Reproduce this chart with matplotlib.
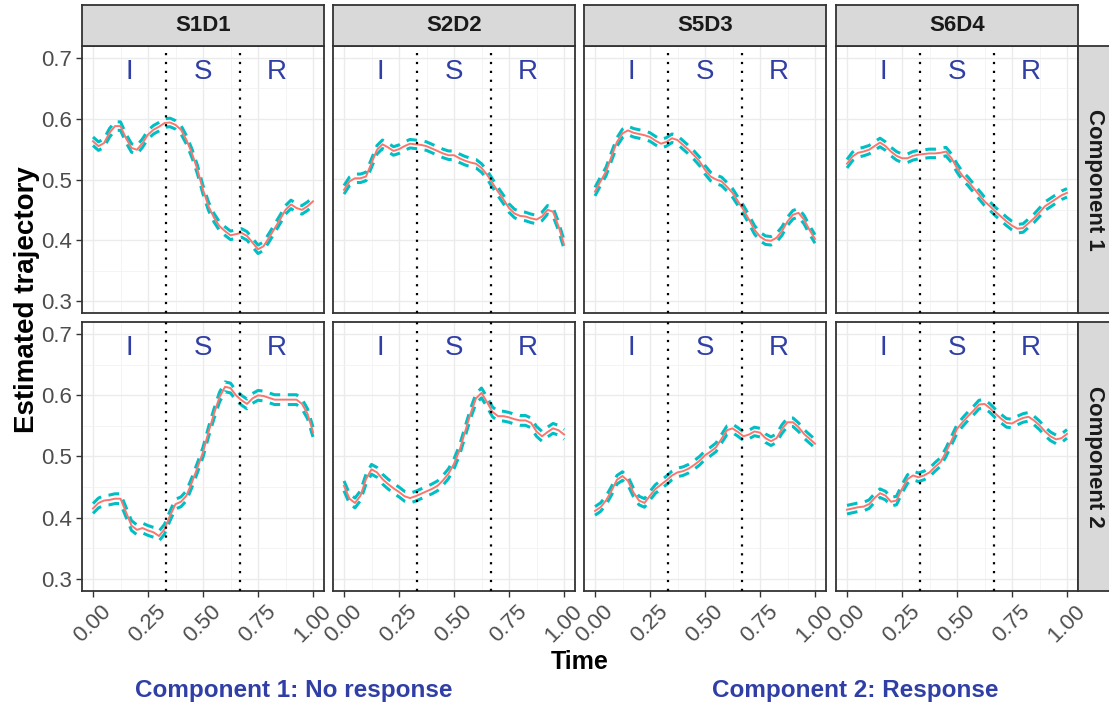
import numpy as np
import matplotlib
matplotlib.use('Agg')
import matplotlib.pyplot as plt
from matplotlib.ticker import MultipleLocator

plt.rcParams['font.family'] = ['Liberation Sans', 'DejaVu Sans']

# time grid shared by every estimated curve
time = np.linspace(0.0, 1.0, 41)

channels = ['S1D1', 'S2D2', 'S5D3', 'S6D4']
components = ['Component 1', 'Component 2']

# estimated mean trajectories (component 1 = top row)
s1d1_c1 = [0.563, 0.555, 0.560, 0.577, 0.588, 0.588, 0.568, 0.552, 0.549, 0.560,
           0.574, 0.582, 0.587, 0.593, 0.594, 0.590, 0.582, 0.565, 0.543, 0.516,
           0.483, 0.456, 0.437, 0.423, 0.415, 0.408, 0.410, 0.412, 0.407, 0.396,
           0.385, 0.390, 0.404, 0.419, 0.434, 0.450, 0.459, 0.453, 0.450, 0.456,
           0.464]
s2d2_c1 = [0.483, 0.497, 0.502, 0.502, 0.505, 0.527, 0.549, 0.558, 0.553, 0.547,
           0.550, 0.555, 0.559, 0.558, 0.557, 0.555, 0.551, 0.547, 0.543, 0.540,
           0.540, 0.535, 0.531, 0.528, 0.526, 0.519, 0.508, 0.494, 0.480, 0.467,
           0.453, 0.444, 0.440, 0.439, 0.436, 0.434, 0.439, 0.450, 0.447, 0.423,
           0.393]
s5d3_c1 = [0.480, 0.497, 0.513, 0.538, 0.562, 0.576, 0.581, 0.577, 0.575, 0.573,
           0.570, 0.564, 0.559, 0.562, 0.568, 0.565, 0.557, 0.549, 0.540, 0.530,
           0.516, 0.505, 0.500, 0.497, 0.488, 0.478, 0.464, 0.450, 0.434, 0.417,
           0.406, 0.400, 0.399, 0.404, 0.415, 0.431, 0.442, 0.445, 0.434, 0.417,
           0.402]
s6d4_c1 = [0.526, 0.538, 0.544, 0.546, 0.549, 0.555, 0.561, 0.555, 0.546, 0.539,
           0.535, 0.535, 0.539, 0.541, 0.542, 0.543, 0.543, 0.544, 0.546, 0.535,
           0.519, 0.506, 0.497, 0.486, 0.475, 0.464, 0.456, 0.447, 0.439, 0.431,
           0.424, 0.419, 0.420, 0.428, 0.436, 0.446, 0.456, 0.462, 0.468, 0.474,
           0.478]

s1d1_c2 = [0.415, 0.424, 0.428, 0.429, 0.431, 0.431, 0.409, 0.387, 0.380, 0.383,
           0.379, 0.376, 0.370, 0.381, 0.403, 0.422, 0.426, 0.436, 0.458, 0.482,
           0.507, 0.540, 0.570, 0.597, 0.614, 0.612, 0.600, 0.592, 0.586, 0.595,
           0.600, 0.599, 0.596, 0.593, 0.593, 0.593, 0.593, 0.593, 0.586, 0.570,
           0.540]
s2d2_c2 = [0.452, 0.431, 0.424, 0.436, 0.463, 0.479, 0.474, 0.463, 0.455, 0.448,
           0.442, 0.435, 0.432, 0.435, 0.439, 0.443, 0.447, 0.452, 0.461, 0.472,
           0.488, 0.510, 0.540, 0.570, 0.595, 0.604, 0.589, 0.573, 0.566, 0.566,
           0.564, 0.561, 0.559, 0.559, 0.555, 0.541, 0.533, 0.540, 0.546, 0.543,
           0.536]
s5d3_c2 = [0.411, 0.417, 0.428, 0.444, 0.462, 0.468, 0.460, 0.441, 0.428, 0.424,
           0.436, 0.447, 0.454, 0.461, 0.469, 0.474, 0.476, 0.480, 0.486, 0.493,
           0.502, 0.508, 0.515, 0.529, 0.543, 0.546, 0.540, 0.533, 0.536, 0.541,
           0.539, 0.530, 0.525, 0.530, 0.545, 0.556, 0.556, 0.548, 0.537, 0.529,
           0.521]
s6d4_c2 = [0.413, 0.415, 0.417, 0.418, 0.422, 0.432, 0.440, 0.436, 0.426, 0.428,
           0.447, 0.463, 0.469, 0.466, 0.469, 0.474, 0.483, 0.491, 0.507, 0.526,
           0.545, 0.556, 0.566, 0.575, 0.585, 0.586, 0.579, 0.570, 0.562, 0.555,
           0.554, 0.559, 0.563, 0.565, 0.559, 0.551, 0.541, 0.533, 0.528, 0.530,
           0.537]

means = [[s1d1_c1, s2d2_c1, s5d3_c1, s6d4_c1],
         [s1d1_c2, s2d2_c2, s5d3_c2, s6d4_c2]]

# half width of the dashed confidence band in each panel
band_c1 = [0.007, 0.007, 0.007, 0.007]
band_c2 = [0.008, 0.008, 0.007, 0.007]
bands = [band_c1, band_c2]

# phases: initial, stimulus, recovery
phase_labels = ['I', 'S', 'R']
phase_breaks = [1 / 3, 2 / 3]

bottom_notes = ['Component 1: No response', 'Component 2: Response']

W, H = 1109, 711
fig = plt.figure(figsize=(W / 100, H / 100), dpi=100)
fig.patch.set_facecolor('white')

col_left = [82, 333, 584, 836]
panel_w = 242
row_top = [46, 322]
panel_h = [267, 269]

red = '#F8766D'
teal = '#00BFC4'
blue = '#2f3fa5'
border = '#333333'
strip_fill = '#d9d9d9'


def fig_box(x0, y0, w, h):
  return [x0 / W, 1 - (y0 + h) / H, w / W, h / H]


edges = [0.0] + phase_breaks + [1.0]
phase_mid = [(a + b) / 2 for a, b in zip(edges[:-1], edges[1:])]

for r in range(2):
  for c in range(4):
    ax = fig.add_axes(fig_box(col_left[c], row_top[r], panel_w, panel_h[r]))
    ax.set_xlim(-0.05, 1.05)
    ax.set_ylim(0.28, 0.72)
    ax.xaxis.set_major_locator(MultipleLocator(0.25))
    ax.xaxis.set_minor_locator(MultipleLocator(0.125))
    ax.yaxis.set_major_locator(MultipleLocator(0.1))
    ax.yaxis.set_minor_locator(MultipleLocator(0.05))
    ax.grid(which='major', color='#ebebeb', lw=1.0)
    ax.grid(which='minor', color='#f2f2f2', lw=0.6)
    ax.set_axisbelow(True)
    for s in ax.spines.values():
      s.set_color(border)
      s.set_linewidth(1.3)
    ax.tick_params(which='minor', length=0)
    ax.tick_params(which='major', length=4, width=1, color='#333333',
                   labelcolor='#4d4d4d', labelsize=16)

    y = np.array(means[r][c])
    hw = bands[r][c]
    ax.plot(time, y + hw, color=teal, lw=2.2, ls=(0, (3.5, 2.5)), zorder=3)
    ax.plot(time, y - hw, color=teal, lw=2.2, ls=(0, (3.5, 2.5)), zorder=3)
    ax.plot(time, y, color=red, lw=1.4, zorder=4)

    for b in phase_breaks:
      ax.axvline(b, color='black', ls=(0, (1, 3)), lw=1.6, zorder=5)
    for lab, xm in zip(phase_labels, phase_mid):
      ax.text(xm, 0.677, lab, color=blue, fontsize=20, ha='center', va='center')

    if c == 0:
      ax.set_yticks([0.3, 0.4, 0.5, 0.6, 0.7])
      ax.set_yticklabels(['0.3', '0.4', '0.5', '0.6', '0.7'])
    else:
      ax.tick_params(axis='y', which='both', left=False, labelleft=False)
    if r == 1:
      ax.set_xticks([0, 0.25, 0.5, 0.75, 1.0])
      ax.set_xticklabels(['0.00', '0.25', '0.50', '0.75', '1.00'], rotation=45)
    else:
      ax.tick_params(axis='x', which='both', bottom=False, labelbottom=False)

# top strips with channel names
for c, name in enumerate(channels):
  sax = fig.add_axes(fig_box(col_left[c], 5, panel_w, 41))
  sax.set_facecolor(strip_fill)
  sax.set_xticks([])
  sax.set_yticks([])
  for s in sax.spines.values():
    s.set_color(border)
    s.set_linewidth(1.3)
  sax.text(0.5, 0.5, name, transform=sax.transAxes, ha='center', va='center',
           fontsize=16, fontweight='bold', color='#1a1a1a')

# right strips with component names
for r, name in enumerate(components):
  sax = fig.add_axes(fig_box(1078, row_top[r], 40, panel_h[r]))
  sax.set_facecolor(strip_fill)
  sax.set_xticks([])
  sax.set_yticks([])
  for s in sax.spines.values():
    s.set_color(border)
    s.set_linewidth(1.3)
  fig.text(1095 / W, 1 - (row_top[r] + panel_h[r] / 2) / H, name,
           rotation=-90, ha='center', va='center', fontsize=16,
           fontweight='bold', color='#1a1a1a')

fig.text(27 / W, 1 - 300 / H, 'Estimated trajectory', rotation=90,
         ha='center', va='center', fontsize=20, fontweight='bold')
fig.text(580 / W, 1 - 662 / H, 'Time', ha='center', va='center',
         fontsize=18, fontweight='bold')
fig.text(294 / W, 1 - 691 / H, bottom_notes[0], ha='center', va='center',
         fontsize=17.5, fontweight='bold', color=blue)
fig.text(855 / W, 1 - 691 / H, bottom_notes[1], ha='center', va='center',
         fontsize=17.5, fontweight='bold', color=blue)

fig.savefig('out.png', dpi=100)
